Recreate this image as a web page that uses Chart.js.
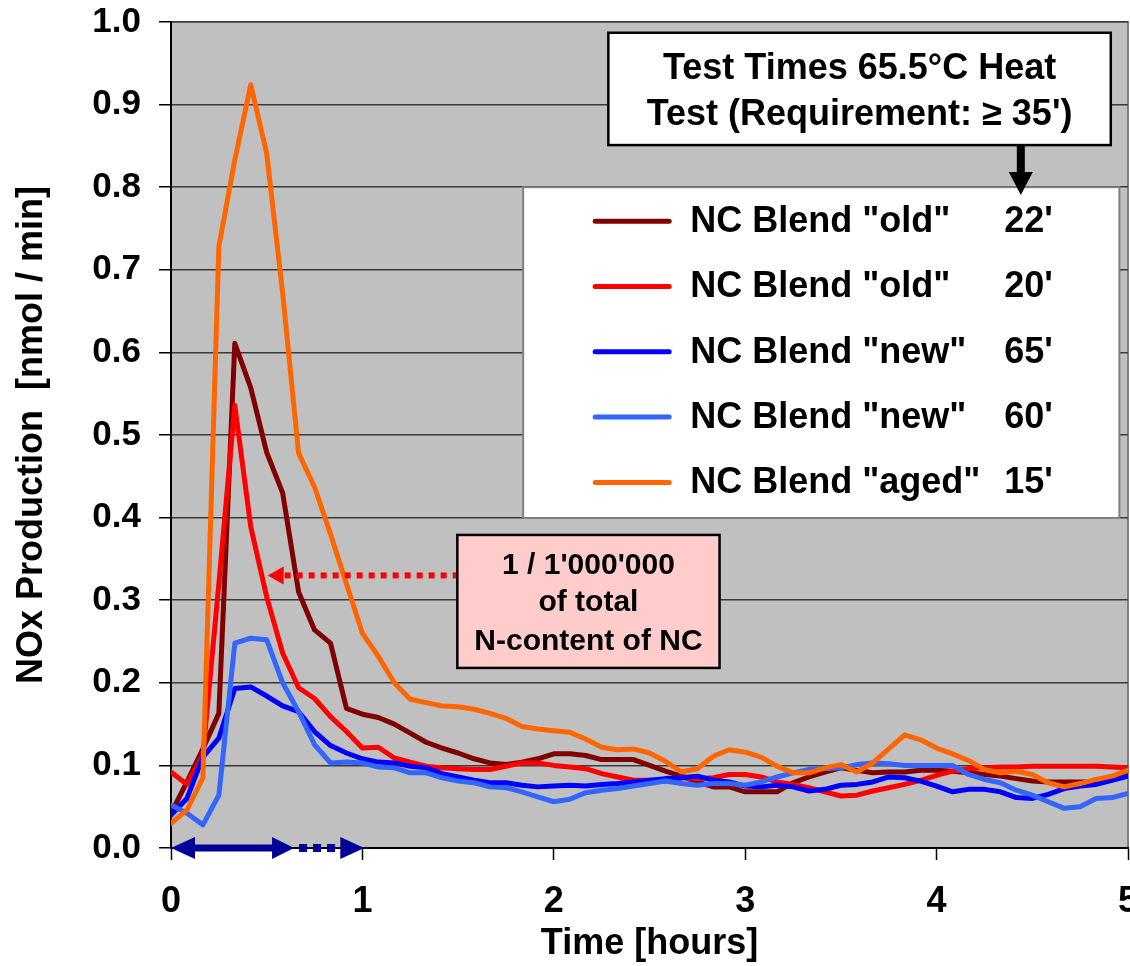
<!DOCTYPE html>
<html>
<head>
<meta charset="utf-8">
<script src="https://cdn.jsdelivr.net/npm/chart.js@4.4.1/dist/chart.umd.min.js"></script>
<style>
  html, body { margin: 0; padding: 0; background: #fff; }
</style>
</head>
<body>
<canvas id="chart" width="1130" height="966"></canvas>
<script>
// sample times, minutes
var minutes = [0,5,10,15,20,25,30,35,40,45,50,55,60,65,70,75,80,85,90,95,
  100,105,110,115,120,125,130,135,140,145,150,155,160,165,170,175,180,185,190,195,
  200,205,210,215,220,225,230,235,240,245,250,255,260,265,270,275,280,285,290,295,300];

// NOx production, nmol/min
var oldA = [0.042,0.080,0.120,0.163,0.611,0.557,0.479,0.430,0.310,0.264,
  0.248,0.169,0.162,0.158,0.150,0.139,0.128,0.121,0.115,0.108,
  0.103,0.101,0.104,0.108,0.114,0.114,0.112,0.107,0.107,0.107,
  0.100,0.093,0.087,0.080,0.074,0.074,0.068,0.068,0.068,0.079,
  0.086,0.092,0.097,0.094,0.091,0.092,0.092,0.094,0.094,0.093,
  0.091,0.089,0.087,0.084,0.081,0.080,0.080,0.080,0.080,0.085,0.088];
var oldB = [0.092,0.077,0.112,0.320,0.536,0.389,0.304,0.236,0.194,0.181,
  0.159,0.141,0.121,0.122,0.109,0.104,0.099,0.097,0.096,0.095,
  0.095,0.099,0.103,0.103,0.100,0.098,0.096,0.090,0.086,0.082,
  0.082,0.081,0.085,0.084,0.085,0.089,0.089,0.086,0.080,0.077,
  0.073,0.068,0.063,0.064,0.069,0.073,0.077,0.082,0.088,0.093,
  0.096,0.097,0.098,0.098,0.099,0.099,0.099,0.099,0.099,0.098,0.097];
var newA = [0.040,0.060,0.110,0.133,0.193,0.195,0.184,0.172,0.165,0.141,
  0.124,0.115,0.108,0.104,0.103,0.099,0.097,0.090,0.086,0.082,
  0.079,0.079,0.076,0.074,0.075,0.076,0.075,0.077,0.078,0.080,
  0.082,0.084,0.085,0.087,0.082,0.080,0.075,0.074,0.076,0.074,
  0.069,0.071,0.076,0.077,0.080,0.086,0.085,0.081,0.075,0.068,
  0.071,0.071,0.068,0.061,0.060,0.065,0.072,0.075,0.077,0.082,0.087];
var newB = [0.052,0.042,0.028,0.064,0.248,0.254,0.252,0.200,0.165,0.125,
  0.103,0.104,0.103,0.098,0.097,0.091,0.091,0.085,0.081,0.079,
  0.074,0.073,0.068,0.062,0.056,0.059,0.067,0.070,0.072,0.075,
  0.078,0.081,0.078,0.076,0.078,0.078,0.076,0.080,0.086,0.091,
  0.095,0.096,0.097,0.101,0.103,0.102,0.100,0.100,0.100,0.100,
  0.089,0.083,0.079,0.070,0.064,0.056,0.048,0.050,0.060,0.061,0.066];
var aged = [0.030,0.046,0.085,0.728,0.833,0.924,0.841,0.672,0.478,0.437,
  0.380,0.320,0.260,0.232,0.200,0.180,0.176,0.172,0.171,0.168,
  0.163,0.157,0.147,0.144,0.142,0.140,0.132,0.122,0.119,0.120,
  0.115,0.105,0.092,0.096,0.111,0.119,0.116,0.110,0.099,0.091,
  0.091,0.097,0.101,0.092,0.103,0.120,0.137,0.131,0.121,0.114,
  0.106,0.095,0.091,0.093,0.089,0.079,0.074,0.078,0.083,0.087,0.094];

var names = ['NC Blend "old"', 'NC Blend "old"', 'NC Blend "new"', 'NC Blend "new"', 'NC Blend "aged"'];
var testTimes = ["22'", "20'", "65'", "60'", "15'"];
var colors = ['#800000', '#FF0000', '#0000FF', '#3366FF', '#FF6600'];
var xTicks = [0, 1, 2, 3, 4, 5];

var series = [oldA, oldB, newA, newB, aged];

var BOLD = '"Liberation Sans", Arial, sans-serif';

var datasets = series.map(function(vals, k) {
  return {
    label: names[k] + ' ' + testTimes[k],
    data: vals.map(function(v, i) { return { x: minutes[i] / 60, y: v }; }),
    borderColor: colors[k],
    backgroundColor: colors[k],
    borderWidth: 5,
    pointRadius: 0,
    tension: 0,
    borderJoinStyle: 'round',
    borderCapStyle: 'round',
    order: series.length - k
  };
});

function arrowHead(ctx, tipX, tipY, dir, len, half) {
  // dir: 1 = pointing right/down-ish along x, -1 = left; 'down' handled separately
  ctx.beginPath();
  ctx.moveTo(tipX, tipY);
  ctx.lineTo(tipX - dir * len, tipY - half);
  ctx.lineTo(tipX - dir * len, tipY + half);
  ctx.closePath();
  ctx.fill();
}

var decorations = {
  id: 'decorations',
  beforeDraw: function(chart) {
    var a = chart.chartArea, ctx = chart.ctx;
    ctx.save();
    ctx.fillStyle = '#C0C0C0';
    ctx.fillRect(a.left, a.top, a.right - a.left, a.bottom - a.top);
    ctx.strokeStyle = '#808080';
    ctx.lineWidth = 2;
    ctx.strokeRect(a.left, a.top, a.right - a.left, a.bottom - a.top);
    ctx.restore();
  },
  afterDraw: function(chart) {
    var ctx = chart.ctx;
    var xs = chart.scales.x, ys = chart.scales.y;
    var px = function(t) { return xs.getPixelForValue(t); };
    var py = function(v) { return ys.getPixelForValue(v); };
    ctx.save();

    // legend box
    var lx0 = px(1.84), lx1 = px(4.955), ly0 = py(0.8), ly1 = py(0.3995);
    ctx.fillStyle = '#fff';
    ctx.fillRect(lx0, ly0, lx1 - lx0, ly1 - ly0);
    ctx.strokeStyle = '#808080';
    ctx.lineWidth = 2;
    ctx.strokeRect(lx0, ly0, lx1 - lx0, ly1 - ly0);
    ctx.font = 'bold 36px ' + BOLD;
    ctx.textBaseline = 'middle';
    ctx.textAlign = 'left';
    for (var k = 0; k < names.length; k++) {
      var ry = ly0 + 34 + k * 65.3;
      ctx.strokeStyle = colors[k];
      ctx.lineWidth = 5;
      ctx.lineCap = 'round';
      ctx.beginPath();
      ctx.moveTo(lx0 + 72, ry);
      ctx.lineTo(lx0 + 146, ry);
      ctx.stroke();
      ctx.fillStyle = '#000';
      ctx.fillText(names[k], lx0 + 167, ry + 1);
      ctx.fillText(testTimes[k], lx0 + 481, ry + 1);
    }

    // test time callout
    var bx0 = px(2.285), bx1 = px(4.91), by0 = py(0.987), by1 = py(0.851);
    ctx.fillStyle = '#fff';
    ctx.fillRect(bx0, by0, bx1 - bx0, by1 - by0);
    ctx.strokeStyle = '#000';
    ctx.lineWidth = 2.5;
    ctx.strokeRect(bx0, by0, bx1 - bx0, by1 - by0);
    ctx.fillStyle = '#000';
    ctx.textAlign = 'center';
    ctx.font = 'bold 36px ' + BOLD;
    var bcx = (bx0 + bx1) / 2;
    ctx.fillText('Test Times 65.5\u00B0C Heat', bcx, by0 + 36);
    ctx.fillText('Test (Requirement: \u2265 35\')', bcx, by0 + 82);
    var axX = px(4.44);
    ctx.fillRect(axX - 4, by1, 8, 30);
    ctx.beginPath();
    ctx.moveTo(axX - 12, by1 + 27);
    ctx.lineTo(axX + 12, by1 + 27);
    ctx.lineTo(axX, by1 + 50);
    ctx.closePath();
    ctx.fill();

    // red dotted pointer to peak
    var ay = py(0.33);
    var tipX = px(0.505), tailX = px(1.49);
    ctx.fillStyle = '#FF0000';
    for (var dx = tipX + 17; dx < tailX - 2; dx += 12) {
      ctx.fillRect(dx, ay - 3, 6, 6);
    }
    arrowHead(ctx, tipX, ay, -1, 16, 9);

    // pink note
    var nx0 = px(1.496), nx1 = px(2.866), ny0 = py(0.379), ny1 = py(0.218);
    ctx.fillStyle = '#FFCCCC';
    ctx.fillRect(nx0, ny0, nx1 - nx0, ny1 - ny0);
    ctx.strokeStyle = '#000';
    ctx.lineWidth = 2.5;
    ctx.strokeRect(nx0, ny0, nx1 - nx0, ny1 - ny0);
    ctx.fillStyle = '#000';
    ctx.font = 'bold 30px ' + BOLD;
    var ncx = (nx0 + nx1) / 2;
    ctx.fillText("1 / 1'000'000", ncx, ny0 + 31);
    ctx.fillText('of total', ncx, ny0 + 68);
    ctx.fillText('N-content of NC', ncx, ny0 + 107);

    // induction period arrow on the time axis
    var y0 = py(0);
    ctx.fillStyle = '#000099';
    var x0 = px(0), xs1 = px(0.528), xt1 = px(0.643);
    arrowHead(ctx, x0, y0, -1, 24, 11);
    ctx.fillRect(x0 + 20, y0 - 3.5, xs1 - x0 - 18, 7);
    arrowHead(ctx, xt1, y0, 1, xt1 - xs1, 11);
    for (var d = xt1 + 5; d < px(0.87); d += 14) {
      ctx.fillRect(d, y0 - 4, 8, 8);
    }
    arrowHead(ctx, px(1.01), y0, 1, 24, 11);

    ctx.restore();
  }
};

new Chart(document.getElementById('chart'), {
  type: 'line',
  data: { datasets: datasets },
  options: {
    responsive: false,
    animation: false,
    layout: { padding: { top: 22, right: 2, left: 0, bottom: 0 } },
    plugins: {
      legend: { display: false },
      tooltip: { enabled: false }
    },
    scales: {
      x: {
        type: 'linear',
        min: 0,
        max: 5,
        afterBuildTicks: function(scale) {
          scale.ticks = xTicks.map(function(v) { return { value: v }; });
        },
        afterFit: function(scale) {
          scale.height = 118;
          scale.paddingLeft = 0;
          scale.paddingRight = 0;
        },
        grid: { drawOnChartArea: false, tickLength: 12, tickColor: '#000', tickWidth: 1.5 },
        border: { color: '#000', width: 2 },
        ticks: {
          padding: 20,
          maxRotation: 0,
          color: '#000',
          font: { family: BOLD, size: 36, weight: 'bold' },
          callback: function(v) { return String(v); }
        },
        title: {
          display: true,
          text: 'Time [hours]',
          color: '#000',
          font: { family: BOLD, size: 36, weight: 'bold' },
          padding: { top: 0, bottom: 0 }
        }
      },
      y: {
        min: 0,
        max: 1,
        afterFit: function(scale) {
          scale.width = 171;
          scale.paddingTop = 0;
          scale.paddingBottom = 0;
        },
        grid: { color: '#3a3a3a', lineWidth: 1.5, tickLength: 12, tickColor: '#000', tickWidth: 1.5 },
        border: { color: '#000', width: 2 },
        ticks: {
          stepSize: 0.1,
          padding: 18,
          color: '#000',
          font: { family: BOLD, size: 35, weight: 'bold' },
          callback: function(v) { return v.toFixed(1); }
        },
        title: {
          display: true,
          text: 'NOx Production  [nmol / min]',
          color: '#000',
          font: { family: BOLD, size: 36, weight: 'bold' },
          padding: { top: 10, bottom: 0 }
        }
      }
    }
  },
  plugins: [decorations]
});
</script>
</body>
</html>
